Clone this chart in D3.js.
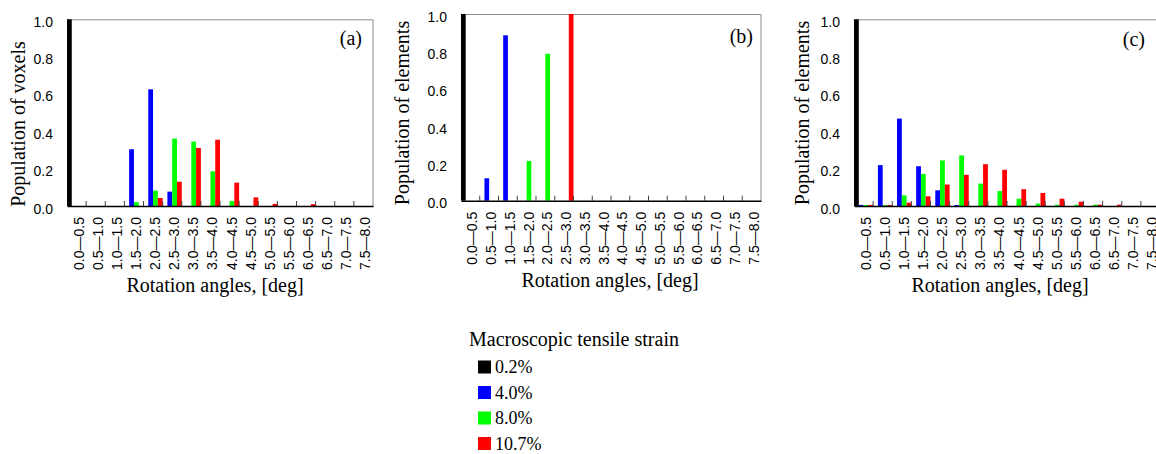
<!DOCTYPE html>
<html>
<head>
<meta charset="utf-8">
<script src="https://cdn.jsdelivr.net/npm/d3@7"></script>
<style>
  body { margin: 0; background: #fff; }
  svg { display: block; }
</style>
</head>
<body>
<script>
// rotation angle bins (x categories)
const bins = ["0.0\u20140.5", "0.5\u20141.0", "1.0\u20141.5", "1.5\u20142.0", "2.0\u20142.5", "2.5\u20143.0",
    "3.0\u20143.5", "3.5\u20144.0", "4.0\u20144.5", "4.5\u20145.0", "5.0\u20145.5", "5.5\u20146.0",
    "6.0\u20146.5", "6.5\u20147.0", "7.0\u20147.5", "7.5\u20148.0"];

const strains = ["0.2%", "4.0%", "8.0%", "10.7%"];
const colors = ["#000000", "#0000ff", "#00ff00", "#ff0000"];
const yTicks = [0, 0.2, 0.4, 0.6, 0.8, 1.0];

// panel (a) population of voxels
const a02  = [1, 0, 0, 0, 0, 0, 0, 0, 0, 0, 0, 0, 0, 0, 0, 0];
const a40  = [0, 0, 0, 0.304, 0.625, 0.077, 0, 0, 0, 0, 0, 0, 0, 0, 0, 0];
const a80  = [0, 0, 0, 0.021, 0.082, 0.361, 0.345, 0.186, 0.027, 0, 0, 0, 0, 0, 0, 0];
const a107 = [0, 0, 0, 0, 0.043, 0.130, 0.311, 0.355, 0.125, 0.046, 0.011, 0, 0.010, 0, 0, 0];

// panel (b) population of elements
const b02  = [1, 0, 0, 0, 0, 0, 0, 0, 0, 0, 0, 0, 0, 0, 0, 0];
const b40  = [0, 0.120, 0.886, 0, 0, 0, 0, 0, 0, 0, 0, 0, 0, 0, 0, 0];
const b80  = [0, 0, 0, 0.213, 0.787, 0, 0, 0, 0, 0, 0, 0, 0, 0, 0, 0];
const b107 = [0, 0, 0, 0, 0, 1.0, 0, 0, 0, 0, 0, 0, 0, 0, 0, 0];

// panel (c) population of elements
const c02  = [1, 0, 0, 0, 0, 0, 0, 0, 0, 0, 0, 0, 0, 0, 0, 0];
const c40  = [0.006, 0.219, 0.468, 0.213, 0.084, 0.005, 0, 0, 0, 0, 0, 0, 0, 0, 0, 0];
const c80  = [0.006, 0.005, 0.057, 0.172, 0.244, 0.271, 0.120, 0.080, 0.039, 0.013, 0.007, 0.007, 0.007, 0, 0, 0];
const c107 = [0.006, 0.005, 0.018, 0.052, 0.115, 0.167, 0.224, 0.194, 0.090, 0.070, 0.039, 0.023, 0.007, 0.007, 0, 0];

const panels = [
    { tag: "(a)", yTitle: "Population of voxels", series: [a02, a40, a80, a107],
      left: 67, top: 19.3, width: 306, height: 186.7,
      yTitleX: 25, yTitleY: 124, xTitleX: 215, tagX: 362, tagY: 45 },
    { tag: "(b)", yTitle: "Population of elements", series: [b02, b40, b80, b107],
      left: 461, top: 14, width: 300, height: 186.7,
      yTitleX: 409, yTitleY: 113, xTitleX: 610, tagX: 753, tagY: 43 },
    { tag: "(c)", yTitle: "Population of elements", series: [c02, c40, c80, c107],
      left: 854, top: 19.3, width: 306, height: 186.7,
      yTitleX: 809, yTitleY: 113, xTitleX: 1000, tagX: 1145, tagY: 46 }
];

const sans = "'Liberation Sans', Arial, sans-serif";
const serif = "'Liberation Serif', 'Times New Roman', serif";

const svg = d3.select("body").append("svg")
    .attr("width", 1156)
    .attr("height", 454);

panels.forEach(function(p) {
    const g = svg.append("g")
        .attr("transform", "translate(" + p.left + "," + p.top + ")");

    const x = d3.scaleBand()
        .domain(bins)
        .range([0, p.width])
        .padding(0);

    const xs = d3.scaleBand()
        .domain(d3.range(strains.length))
        .range([0, x.bandwidth()])
        .padding(0);

    const y = d3.scaleLinear()
        .domain([0, 1])
        .range([p.height, 0]);

    // frame top / right
    g.append("path")
        .attr("d", "M0,0.5H" + p.width + "V" + p.height)
        .attr("fill", "none")
        .attr("stroke", "#8c8c8c")
        .attr("stroke-width", 1);

    // bars
    const groups = g.selectAll(".bin")
        .data(bins)
        .enter().append("g")
        .attr("class", "bin")
        .attr("transform", d => "translate(" + x(d) + ",0)");

    groups.selectAll("rect")
        .data((d, i) => p.series.map((s, k) => ({ k: k, v: s[i] })))
        .enter().append("rect")
        .filter(d => d.v > 0)
        .attr("x", d => xs(d.k))
        .attr("width", xs.bandwidth())
        .attr("y", d => y(d.v))
        .attr("height", d => y(0) - y(d.v))
        .attr("fill", d => colors[d.k]);

    // bin boundary ticks (pointing up)
    g.selectAll(".btick")
        .data(bins.slice(1))
        .enter().append("line")
        .attr("class", "btick")
        .attr("x1", d => x(d))
        .attr("x2", d => x(d))
        .attr("y1", p.height)
        .attr("y2", p.height - 5)
        .attr("stroke", "#444")
        .attr("stroke-width", 1);

    // x axis
    const xAxis = g.append("g")
        .attr("transform", "translate(0," + p.height + ")")
        .call(d3.axisBottom(x).tickSize(0).tickPadding(0));
    xAxis.select(".domain").attr("stroke", "#000").attr("stroke-width", 1.5);
    xAxis.selectAll("text")
        .attr("transform", "rotate(-90)")
        .attr("x", -11)
        .attr("y", 0)
        .attr("dy", "0.5em")
        .style("text-anchor", "end")
        .style("font-family", sans)
        .style("font-size", "14px")
        .attr("fill", "#000");

    // y axis
    const yAxis = g.append("g")
        .call(d3.axisLeft(y).tickValues(yTicks).tickFormat(d3.format(".1f")).tickSize(0).tickPadding(14));
    yAxis.select(".domain").remove();
    yAxis.selectAll("text")
        .attr("dy", "0.5em")
        .style("font-family", sans)
        .style("font-size", "14px")
        .attr("fill", "#000");

    // panel tag
    g.append("text")
        .attr("x", p.tagX - p.left)
        .attr("y", p.tagY - p.top)
        .style("text-anchor", "end")
        .style("font-family", serif)
        .style("font-size", "20px")
        .text(p.tag);

    // axis titles
    svg.append("text")
        .attr("transform", "translate(" + p.yTitleX + "," + p.yTitleY + ") rotate(-90)")
        .style("text-anchor", "middle")
        .style("font-family", serif)
        .style("font-size", "20px")
        .text(p.yTitle);

    svg.append("text")
        .attr("x", p.xTitleX)
        .attr("y", p.top + p.height + 86)
        .style("text-anchor", "middle")
        .style("font-family", serif)
        .style("font-size", "20px")
        .text("Rotation angles, [deg]");
});

// legend
const legend = svg.append("g");

legend.append("text")
    .attr("x", 469)
    .attr("y", 346)
    .style("font-family", serif)
    .style("font-size", "20px")
    .text("Macroscopic tensile strain");

const item = legend.selectAll(".item")
    .data(strains)
    .enter().append("g")
    .attr("class", "item")
    .attr("transform", (d, i) => "translate(478," + (360.5 + i * 25.5) + ")");

item.append("rect")
    .attr("width", 13)
    .attr("height", 13)
    .attr("fill", (d, i) => colors[i]);

item.append("text")
    .attr("x", 17)
    .attr("y", 12.5)
    .style("font-family", serif)
    .style("font-size", "18px")
    .text(d => d);
</script>
</body>
</html>
